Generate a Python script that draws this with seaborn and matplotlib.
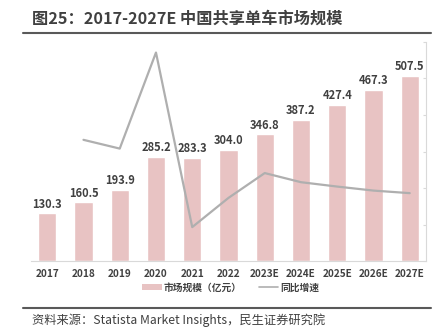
import matplotlib
matplotlib.use("Agg")
import matplotlib.pyplot as plt
import seaborn as sns
import pandas as pd
import numpy as np
from matplotlib.lines import Line2D
from matplotlib.patches import Patch

sns.set_theme(style="white")
plt.rcParams['font.family'] = ['Noto Sans CJK SC', 'DejaVu Sans']

years = ["2017", "2018", "2019", "2020", "2021", "2022", "2023E", "2024E", "2025E", "2026E", "2027E"]
market_size = [130.3, 160.5, 193.9, 285.2, 283.3, 304.0, 346.8, 387.2, 427.4, 467.3, 507.5]
growth = [np.nan, 23.2, 20.8, 47.1, -0.7, 7.3, 14.1, 11.6, 10.4, 9.3, 8.6]

df = pd.DataFrame({"year": years, "size": market_size, "growth": growth})

fig = plt.figure(figsize=(4.48, 3.33), dpi=100)
ax = fig.add_axes([0.069, 0.216, 0.882, 0.658])

bar_color = "#E8C3C3"
line_color = "#AFAFAF"
text_color = "#404040"

sns.barplot(data=df, x="year", y="size", color=bar_color, width=0.5, ax=ax, saturation=1)
ax.set_ylim(0, 600)
ax.set_xlim(-0.45, 10.45)
ax.set_xlabel("")
ax.set_ylabel("")
ax.set_yticks([])
for i, v in enumerate(market_size):
    ax.text(i, v + 8, f"{v:.1f}", ha="center", va="bottom", fontsize=8,
            fontweight="bold", color=text_color)
ax.tick_params(axis="x", length=0, pad=6, labelsize=7.2, labelcolor=text_color)
for lbl in ax.get_xticklabels():
    lbl.set_fontweight("bold")
for s in ["top", "left", "right"]:
    ax.spines[s].set_visible(False)
ax.spines["bottom"].set_color("#D9D9D9")
ax.spines["bottom"].set_linewidth(0.8)

ax2 = ax.twinx()
sns.lineplot(x=np.arange(len(years)), y=df["growth"], color=line_color, linewidth=1.6, ax=ax2)
ax2.set_ylim(-10, 50)
ax2.set_yticks([-10, 0, 10, 20, 30, 40, 50])
ax2.set_yticklabels([])
ax2.tick_params(axis="y", direction="in", length=2, color="#D9D9D9", width=0.8, right=True)
ax2.set_ylabel("")
for s in ["top", "left", "bottom"]:
    ax2.spines[s].set_visible(False)
ax2.spines["right"].set_color("#D9D9D9")
ax2.spines["right"].set_linewidth(0.8)

handles = [Patch(facecolor=bar_color, edgecolor="none"),
           Line2D([0], [0], color=line_color, linewidth=1.2)]
fig.legend(handles, ["市场规模（亿元）", "同比增速"], loc="center", bbox_to_anchor=(0.515, 0.137),
           ncol=2, frameon=False, fontsize=7, handlelength=2.0, handleheight=0.6,
           columnspacing=1.8, handletextpad=0.2, labelcolor=text_color,
           prop={"weight": "bold", "size": 7})

fig.text(0.071, 0.945, "图25：2017-2027E 中国共享单车市场规模", fontsize=11.7, fontweight="bold",
         color=text_color, ha="left", va="center")
fig.add_artist(Line2D([0.052, 0.962], [0.9, 0.9], color="#595959", linewidth=1.5,
                      transform=fig.transFigure))
fig.add_artist(Line2D([0.052, 0.962], [0.075, 0.075], color="#595959", linewidth=1.5,
                      transform=fig.transFigure))
fig.text(0.071, 0.037, "资料来源：Statista Market Insights，民生证券研究院", fontsize=8.8,
         color="#404040", ha="left", va="center")

fig.savefig("out.png", dpi=100)
